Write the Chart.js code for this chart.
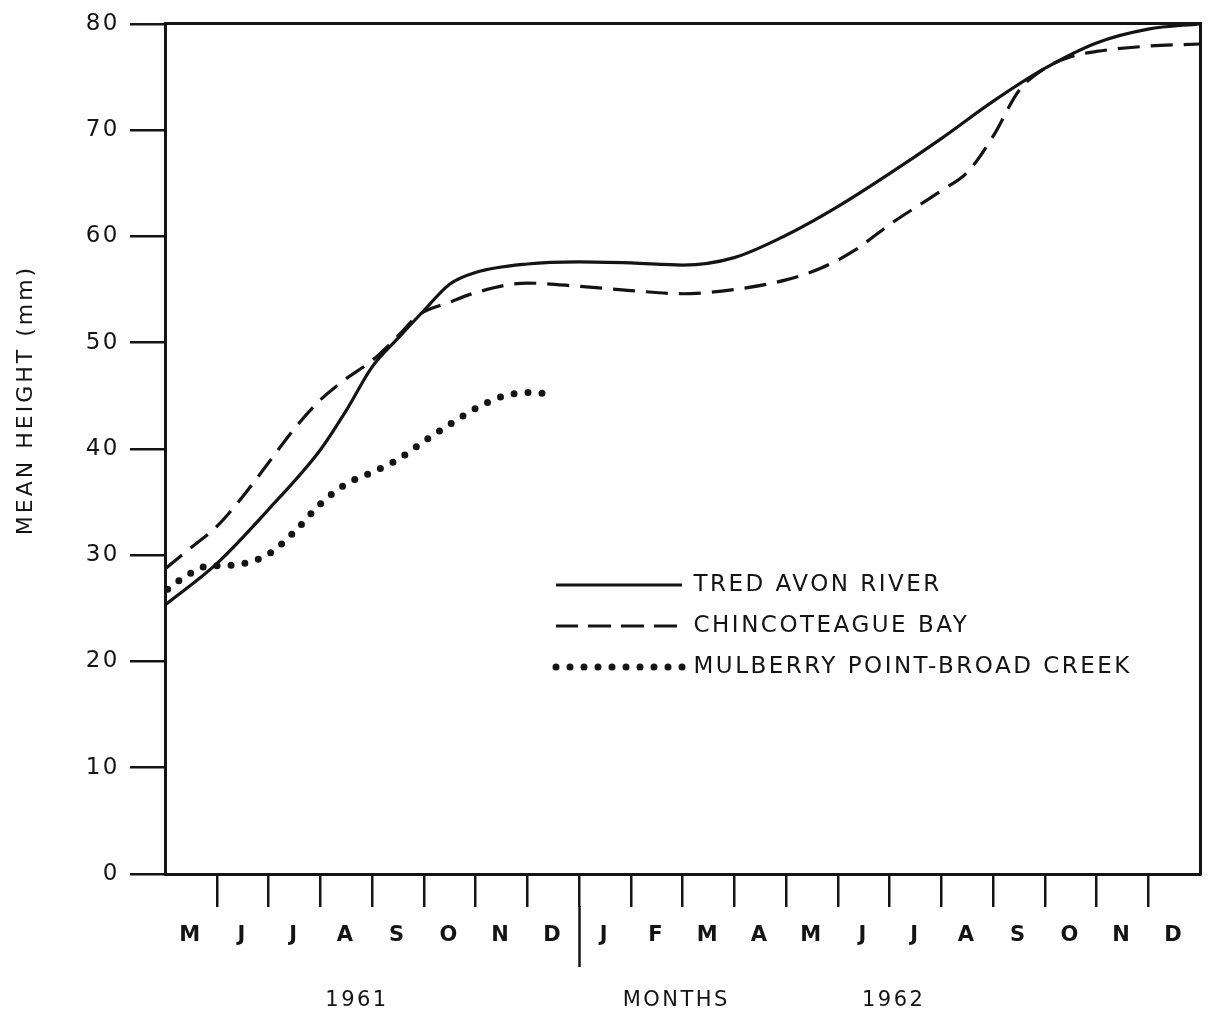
<!DOCTYPE html>
<html>
<head>
<meta charset="utf-8">
<script src="https://cdn.jsdelivr.net/npm/chart.js@4.4.1/dist/chart.umd.min.js"></script>
<style>
  html, body { margin: 0; padding: 0; background: #ffffff; }
  #wrap { width: 1210px; height: 1011px; position: relative; }
</style>
</head>
<body>
<div id="wrap"><canvas id="c" width="1210" height="1011"></canvas></div>
<script>
// ---------- data ----------
const monthLabels = ['M','J','J','A','S','O','N','D','J','F','M','A','M','J','J','A','S','O','N','D'];
const monthTickPositions = [1,2,3,4,5,6,7,8,9,10,11,12,13,14,15,16,17,18,19];
const dividerPosition = 8;
const yearLabels = ['1961', 'MONTHS', '1962'];
const yearLabelPositions = [3.71, 9.88, 14.08];
const yTickValues = [0, 10, 20, 30, 40, 50, 60, 70, 80];
const yTitle = 'MEAN HEIGHT (mm)';

// months counted from 1 May 1961
const tredAvonMonths  = [0, 1, 2, 3, 3.5, 4, 4.5, 5, 5.5, 6, 7, 8, 9, 10, 11, 12, 13, 14, 15, 16, 17, 18, 19, 20];
const tredAvonHeights = [25.3, 29.2, 34.3, 39.9, 43.6, 47.7, 50.4, 53.0, 55.5, 56.6, 57.4, 57.6, 57.5, 57.3, 58.0, 60.1, 62.8, 65.9, 69.2, 72.7, 75.8, 78.2, 79.5, 80.0];

const chincoMonths  = [0, 0.5, 1, 1.5, 2, 2.5, 3, 3.5, 4, 4.5, 4.9, 5.5, 6, 7, 8, 9, 10, 11, 12, 12.67, 13.3, 14, 15, 15.5, 16, 16.5, 17, 17.5, 18, 19, 20];
const chincoHeights = [28.7, 30.7, 32.7, 35.5, 38.7, 41.9, 44.6, 46.6, 48.3, 50.6, 52.6, 53.8, 54.7, 55.6, 55.3, 54.9, 54.6, 55.0, 55.9, 57.0, 58.6, 61.1, 64.3, 66.0, 69.4, 73.7, 75.8, 76.9, 77.4, 77.9, 78.1];

const mulberryMonths  = [0.05, 0.3, 0.5, 0.75, 1, 1.5, 2, 2.5, 3, 3.5, 4, 4.5, 5, 5.5, 6, 6.5, 7, 7.4];
const mulberryHeights = [26.8, 27.7, 28.3, 28.9, 29.0, 29.2, 30.1, 32.2, 34.8, 36.7, 37.8, 39.0, 40.7, 42.3, 43.8, 44.9, 45.3, 45.2];

const seriesNames = ['TRED AVON RIVER', 'CHINCOTEAGUE BAY', 'MULBERRY POINT-BROAD CREEK'];

// ---------- styling ----------
const INK = '#141414';
const FAM = "'DejaVu Sans', 'Liberation Sans', sans-serif";

const toPoints = (xs, ys) => xs.map((x, i) => ({ x: x, y: ys[i] }));

const spacingPlugin = {
  id: 'spacing',
  beforeUpdate(chart) { chart.ctx.letterSpacing = '2.5px'; },
  beforeDraw(chart) { chart.ctx.letterSpacing = '2.5px'; }
};

const legendPlacer = {
  id: 'legendPlacer',
  afterLayout(chart) {
    const lg = chart.legend;
    if (!lg) return;
    lg.left = 538; lg.top = 555.5;
    lg.right = 1195; lg.bottom = 860;
    lg.width = lg.right - lg.left; lg.height = lg.bottom - lg.top;
  }
};

const extras = {
  id: 'extras',
  afterDraw(chart) {
    const ctx = chart.ctx;
    const xs = chart.scales.x;
    const xp = xs.getPixelForValue(dividerPosition);
    ctx.save();
    ctx.strokeStyle = INK;
    ctx.lineWidth = 2.5;
    ctx.beginPath();
    ctx.moveTo(Math.round(xp) + 0.5, xs.bottom - 1);
    ctx.lineTo(Math.round(xp) + 0.5, 967);
    ctx.stroke();
    ctx.restore();

    ctx.save();
    ctx.letterSpacing = '3px';
    ctx.translate(26, 400);
    ctx.rotate(-Math.PI / 2);
    ctx.font = "22px " + FAM;
    ctx.fillStyle = INK;
    ctx.textAlign = 'center';
    ctx.textBaseline = 'middle';
    ctx.fillText(yTitle, 0, 0);
    ctx.restore();
  }
};

const ctx = document.getElementById('c').getContext('2d');
new Chart(ctx, {
  type: 'line',
  data: {
    datasets: [
      {
        label: seriesNames[0],
        data: toPoints(tredAvonMonths, tredAvonHeights),
        borderColor: INK, backgroundColor: INK,
        borderWidth: 3.2, pointRadius: 0,
        cubicInterpolationMode: 'monotone', fill: false, clip: 6,
        xAxisID: 'x', yAxisID: 'y'
      },
      {
        label: seriesNames[1],
        data: toPoints(chincoMonths, chincoHeights),
        borderColor: INK, backgroundColor: INK,
        borderWidth: 3.2, borderDash: [22, 11], pointRadius: 0,
        cubicInterpolationMode: 'monotone', fill: false, clip: 6,
        xAxisID: 'x', yAxisID: 'y'
      },
      {
        label: seriesNames[2],
        data: toPoints(mulberryMonths, mulberryHeights),
        borderColor: INK, backgroundColor: INK,
        borderWidth: 7, borderDash: [0, 14], borderCapStyle: 'round', pointRadius: 0,
        cubicInterpolationMode: 'monotone', fill: false, clip: 6,
        xAxisID: 'x', yAxisID: 'y'
      }
    ]
  },
  options: {
    responsive: false,
    devicePixelRatio: 1,
    animation: false,
    events: [],
    layout: { padding: 0 },
    scales: {
      x: {
        type: 'linear', position: 'bottom', min: 0, max: 20, weight: 0,
        afterBuildTicks: s => { s.ticks = monthTickPositions.map(v => ({ value: v })); },
        ticks: { display: false },
        grid: { display: true, drawOnChartArea: false, drawTicks: true, tickLength: 33,
                lineWidth: 2.5, tickWidth: 2.5, color: INK, tickColor: INK },
        border: { display: true, width: 3, color: INK },
        afterFit: s => { s.height = 33; }
      },
      xm: {
        type: 'linear', position: 'bottom', min: 0, max: 20, weight: 1,
        afterBuildTicks: s => { s.ticks = monthLabels.map((_, i) => ({ value: i + 0.5 })); },
        ticks: {
          autoSkip: false, maxRotation: 0, minRotation: 0, padding: 16,
          color: INK, font: { family: FAM, size: 21, weight: 'bold' },
          callback: (v, i) => monthLabels[i]
        },
        grid: { display: false, drawTicks: false },
        border: { display: false },
        afterFit: s => { s.height = 50; }
      },
      xy: {
        type: 'linear', position: 'bottom', min: 0, max: 20, weight: 2,
        afterBuildTicks: s => { s.ticks = yearLabelPositions.map(v => ({ value: v })); },
        ticks: {
          autoSkip: false, maxRotation: 0, minRotation: 0, padding: 31,
          color: INK, font: { family: FAM, size: 21 },
          callback: (v, i) => yearLabels[i]
        },
        grid: { display: false, drawTicks: false },
        border: { display: false },
        afterFit: s => { s.height = 54; }
      },
      xt: {
        type: 'linear', position: 'top', min: 0, max: 20,
        ticks: { display: false },
        grid: { display: false, drawTicks: false },
        border: { display: true, width: 3, color: INK },
        afterFit: s => { s.height = 20; }
      },
      y: {
        type: 'linear', position: 'left', min: 0, max: 80,
        afterBuildTicks: s => { s.ticks = yTickValues.map(v => ({ value: v })); },
        ticks: { padding: 10, color: INK, font: { family: FAM, size: 23 } },
        grid: { display: true, drawOnChartArea: false, drawTicks: true, tickLength: 35,
                lineWidth: 2.5, tickWidth: 2.5, color: INK, tickColor: INK },
        border: { display: true, width: 3, color: INK },
        afterFit: s => { s.width = 165; }
      },
      yr: {
        type: 'linear', position: 'right', min: 0, max: 80,
        ticks: { display: false },
        grid: { display: false, drawTicks: false },
        border: { display: true, width: 3, color: INK },
        afterFit: s => { s.width = 10; }
      }
    },
    plugins: {
      legend: {
        display: true, position: 'chartArea', align: 'start',
        labels: {
          usePointStyle: false, boxWidth: 126, boxHeight: 0,
          padding: 18, color: INK,
          font: { family: FAM, size: 23 }
        }
      },
      tooltip: { enabled: false },
      title: { display: false }
    }
  },
  plugins: [spacingPlugin, legendPlacer, extras]
});
</script>
</body>
</html>
